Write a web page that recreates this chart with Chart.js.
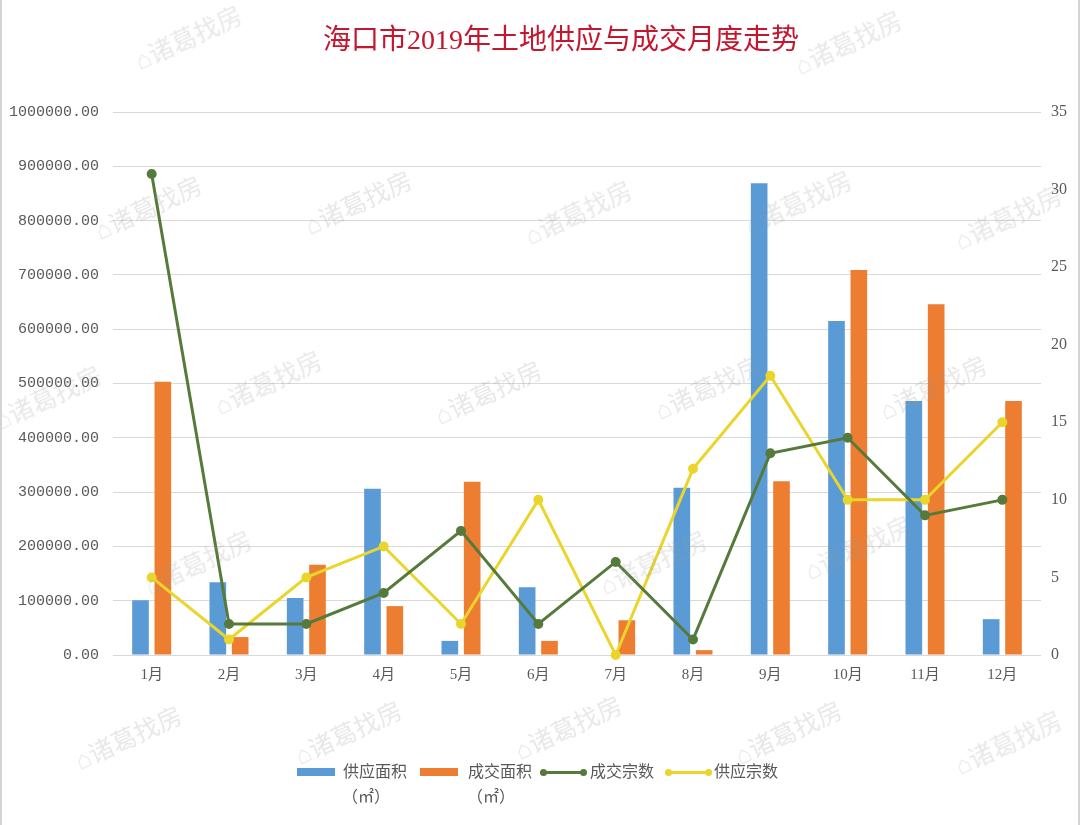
<!DOCTYPE html>
<html>
<head>
<meta charset="utf-8">
<script src="https://cdn.jsdelivr.net/npm/chart.js@4.4.1/dist/chart.umd.min.js"></script>
<style>
  html, body { margin: 0; padding: 0; background: #ffffff; }
  #wrap { position: relative; width: 1080px; height: 825px; box-sizing: border-box; border-left: 2px solid #d4d4d4; border-right: 2px solid #d4d4d4; overflow: hidden; }
  #c { position: absolute; left: 0; top: 0; }
  #title { position: absolute; left: 40px; width: 1038px; top: 24px; text-align: center; font-family: "Liberation Serif", "Noto Sans CJK SC", serif; font-size: 28px; line-height: 32px; color: #c4162f; white-space: nowrap; }
  .leg { position: absolute; font-family: "Liberation Serif", "Noto Sans CJK SC", serif; font-size: 16px; color: #595959; white-space: nowrap; line-height: 1; }
  .box { position: absolute; height: 8px; }
  .ln { position: absolute; height: 3px; }
  .dot { position: absolute; width: 7px; height: 7px; border-radius: 50%; }
  .wm { position: absolute; font-family: "Noto Sans CJK SC", sans-serif; font-size: 25px; color: rgba(150,150,150,0.22); transform: rotate(-25deg); white-space: nowrap; pointer-events: none; }
</style>
</head>
<body>
<div id="wrap">
<canvas id="c" width="1076" height="825"></canvas>
<div id="title"></div>
<div id="legend"></div>
<div id="wms"></div>
</div>
<script>
const months = ["1月","2月","3月","4月","5月","6月","7月","8月","9月","10月","11月","12月"];
const supplyArea = [101000, 134000, 105000, 306000, 26000, 125000, 0, 308000, 869000, 615000, 468000, 66000];
const dealArea   = [503000, 33000, 166000, 90000, 319000, 26000, 64000, 9000, 320000, 709000, 646000, 468000];
const dealCount   = [31, 2, 2, 4, 8, 2, 6, 1, 13, 14, 9, 10];
const supplyCount = [5, 1, 5, 7, 2, 10, 0, 12, 18, 10, 10, 15];
const seriesNames = ["供应面积（㎡）", "成交面积（㎡）", "成交宗数", "供应宗数"];
const titleText = "海口市2019年土地供应与成交月度走势";

const BLUE = "#5b9bd5", ORANGE = "#ed7d31", GREEN = "#557a3b", YELLOW = "#e9d52b";

document.getElementById("title").textContent = titleText;

new Chart(document.getElementById("c"), {
  type: "bar",
  data: {
    labels: months,
    datasets: [
      { type: "line", label: seriesNames[2], data: dealCount, yAxisID: "y1", borderColor: GREEN, backgroundColor: GREEN, borderWidth: 3, pointRadius: 3.5, pointBackgroundColor: GREEN, pointBorderColor: GREEN, tension: 0, order: 0, clip: false },
      { type: "line", label: seriesNames[3], data: supplyCount, yAxisID: "y1", borderColor: YELLOW, backgroundColor: YELLOW, borderWidth: 3, pointRadius: 3.5, pointBackgroundColor: YELLOW, pointBorderColor: YELLOW, tension: 0, order: 0, clip: false },
      { label: seriesNames[0], data: supplyArea, yAxisID: "y", backgroundColor: BLUE, categoryPercentage: 0.578, barPercentage: 0.745, order: 1 },
      { label: seriesNames[1], data: dealArea, yAxisID: "y", backgroundColor: ORANGE, categoryPercentage: 0.578, barPercentage: 0.745, order: 1 }
    ]
  },
  options: {
    responsive: false,
    animation: false,
    layout: { padding: { top: 112, left: 0, right: 0, bottom: 0 } },
    plugins: {
      legend: { display: false },
      tooltip: { enabled: false },
      title: { display: false }
    },
    scales: {
      x: {
        grid: { display: false, drawTicks: false },
        border: { display: false },
        ticks: { color: "#595959", padding: 11, font: { family: "'Liberation Serif', 'Noto Sans CJK SC', serif", size: 15 } },
        afterFit(s) { s.height = 170; }
      },
      y: {
        position: "left", min: 0, max: 1000000,
        grid: { color: "#d9d9d9", lineWidth: 1, drawTicks: false },
        border: { display: false },
        ticks: { stepSize: 100000, padding: 14, color: "#595959", font: { family: "'Liberation Mono', monospace", size: 15 }, callback: v => Number(v).toFixed(2) },
        afterFit(s) { s.width = 111; }
      },
      y1: {
        position: "right", min: 0, max: 35,
        grid: { display: false, drawTicks: false },
        border: { display: false },
        ticks: { stepSize: 5, padding: 10, color: "#595959", font: { family: "'Liberation Serif', serif", size: 16 } },
        afterFit(s) { s.width = 37; }
      }
    }
  }
});

// legend
const leg = document.getElementById("legend");
function add(html) { leg.insertAdjacentHTML("beforeend", html); }
add(`<div class="box" style="left:295px;top:768px;width:38px;background:${BLUE}"></div>`);
add(`<div class="leg" style="left:341px;top:764px;">供应面积</div>`);
add(`<div class="leg" style="left:340px;top:789px;">（㎡）</div>`);
add(`<div class="box" style="left:418px;top:768px;width:38px;background:${ORANGE}"></div>`);
add(`<div class="leg" style="left:466px;top:764px;">成交面积</div>`);
add(`<div class="leg" style="left:465px;top:789px;">（㎡）</div>`);
add(`<div class="ln" style="left:538px;top:771px;width:46px;background:${GREEN}"></div>`);
add(`<div class="dot" style="left:538px;top:769px;background:${GREEN}"></div>`);
add(`<div class="dot" style="left:578px;top:769px;background:${GREEN}"></div>`);
add(`<div class="leg" style="left:588px;top:764px;">成交宗数</div>`);
add(`<div class="ln" style="left:663px;top:771px;width:46px;background:${YELLOW}"></div>`);
add(`<div class="dot" style="left:663px;top:769px;background:${YELLOW}"></div>`);
add(`<div class="dot" style="left:703px;top:769px;background:${YELLOW}"></div>`);
add(`<div class="leg" style="left:712px;top:764px;">供应宗数</div>`);

// watermarks
const wmText = "⌂诸葛找房";
const wmPos = [[190,35],[850,40],[150,205],[360,200],[580,210],[800,200],[1010,215],[50,395],[270,380],[490,390],[710,385],[935,385],[200,560],[655,560],[860,545],[130,735],[350,730],[570,725],[790,730],[1010,740]];
const wms = document.getElementById("wms");
wmPos.forEach(p => {
  wms.insertAdjacentHTML("beforeend", `<div class="wm" style="left:${p[0]-62}px;top:${p[1]-17}px;">${wmText}</div>`);
});
</script>
</body>
</html>
